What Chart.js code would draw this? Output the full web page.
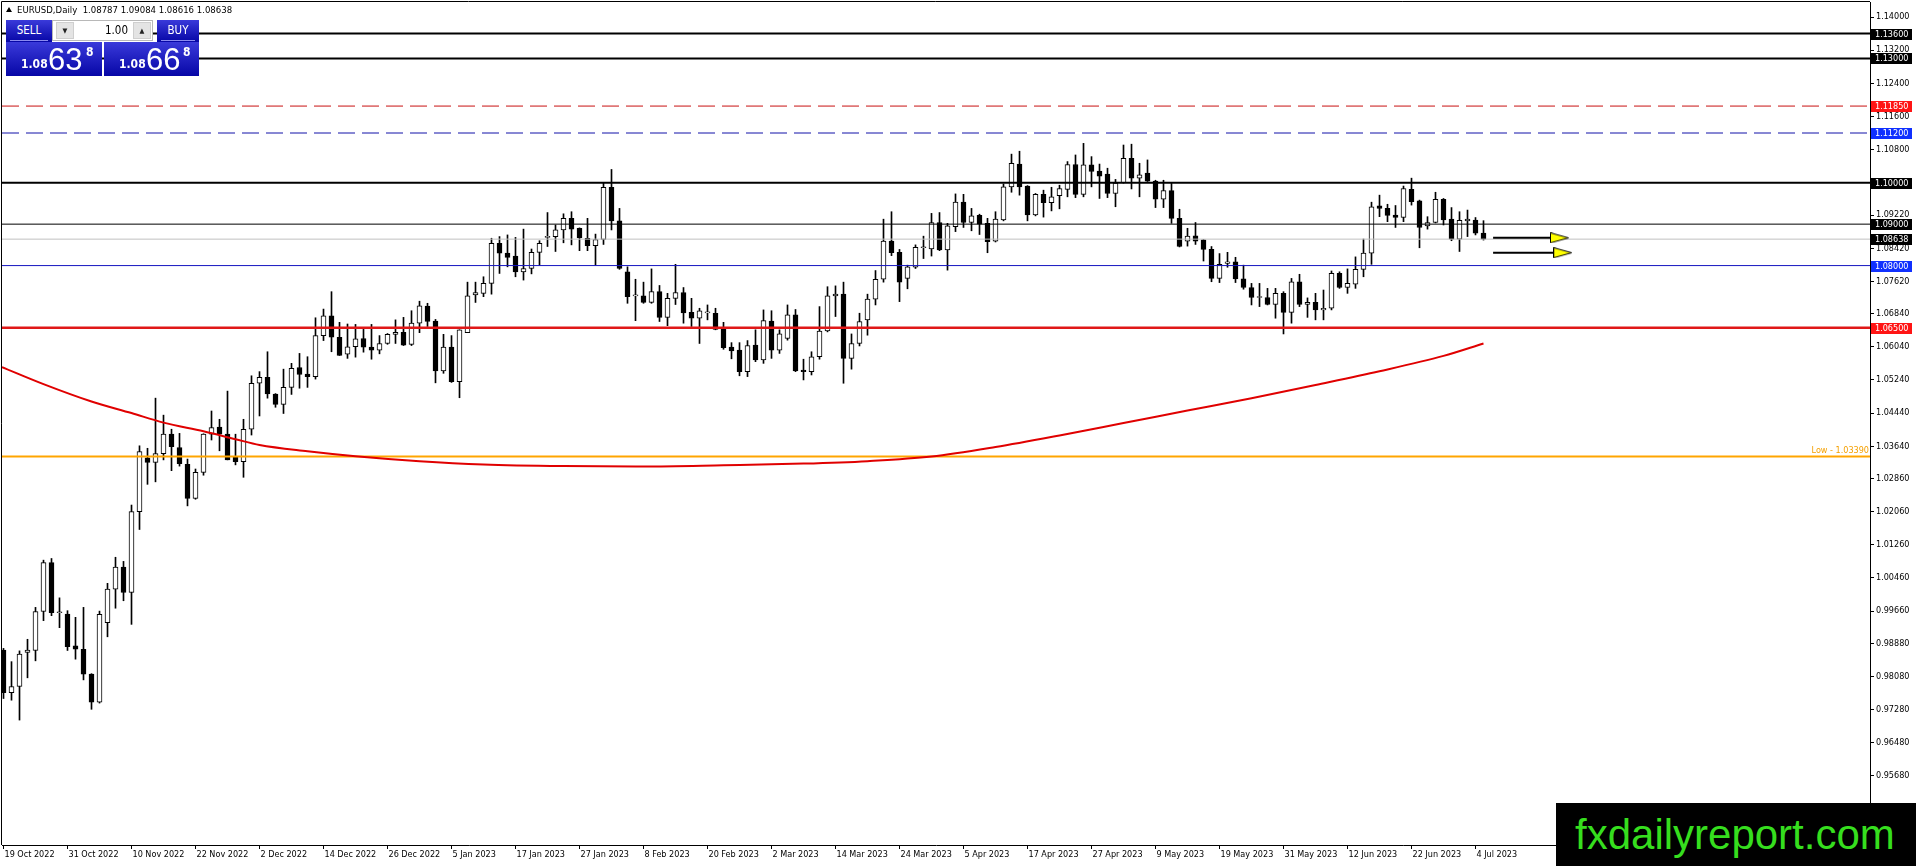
<!DOCTYPE html>
<html>
<head>
<meta charset="utf-8">
<script src="https://cdn.jsdelivr.net/npm/chart.js@4.4.1/dist/chart.umd.min.js"></script>
<style>
  html,body{margin:0;padding:0;background:#fff;}
  #wrap{position:relative;width:1916px;height:866px;overflow:hidden;}
  canvas{position:absolute;left:0;top:0;}
  .f{font-family:"DejaVu Sans Condensed","Liberation Sans",sans-serif;}
  #title{position:absolute;left:6px;top:4px;font-size:9.5px;color:#000;white-space:pre;}
  #title .tri{display:inline-block;width:0;height:0;border-left:3px solid transparent;border-right:3px solid transparent;border-bottom:5px solid #000;margin-right:5px;vertical-align:1px;}
  .blue{background:linear-gradient(#3a3ada,#0606a6);color:#fff;position:absolute;}
  #sellLbl{left:6px;top:20px;width:46px;height:22px;}
  #buyLbl{left:157px;top:20px;width:42px;height:22px;}
  .lbl{font-size:11.5px;text-align:center;line-height:21px;}
  .lbl .ul{position:absolute;left:4px;right:4px;bottom:1px;height:1px;background:#8a8af0;}
  #lot{position:absolute;left:52px;top:20px;width:101px;height:21px;background:#fff;border:1px solid #b8b8b8;box-sizing:border-box;}
  #lot .btn{position:absolute;top:1px;width:18px;height:17px;background:#e4e4e4;border:1px solid #cfcfcf;box-sizing:border-box;font-size:7px;text-align:center;line-height:16px;color:#222;}
  #lot .v{position:absolute;right:24px;top:0;font-size:11.5px;line-height:19px;color:#000;}
  #sellPx{left:6px;top:42px;width:96px;height:34px;}
  #buyPx{left:104px;top:42px;width:95px;height:34px;}
  .px .a{position:absolute;bottom:5px;font-size:12px;font-weight:bold;}
  .px .b{position:absolute;bottom:1px;font-size:31px;font-family:"Liberation Sans",sans-serif;line-height:31px;}
  .px .c{position:absolute;top:3px;font-size:12px;font-weight:bold;}
  #wm{position:absolute;left:1556px;top:803px;width:360px;height:63px;background:#000;color:#36de1e;font-family:"Liberation Sans",Arial,sans-serif;font-size:42px;line-height:63px;padding-left:19px;box-sizing:border-box;white-space:nowrap;}
</style>
</head>
<body>
<div id="wrap">
  <canvas id="c" width="1916" height="866"></canvas>
  <div id="title" class="f"><span class="tri"></span>EURUSD,Daily  1.08787 1.09084 1.08616 1.08638</div>
  <div id="sellLbl" class="blue lbl f">SELL<span class="ul"></span></div>
  <div id="lot" class="f"><span class="btn" style="left:3px">&#9660;</span><span class="v">1.00</span><span class="btn" style="right:1px">&#9650;</span></div>
  <div id="buyLbl" class="blue lbl f">BUY<span class="ul"></span></div>
  <div id="sellPx" class="blue px f"><span class="a" style="left:15px">1.08</span><span class="b" style="left:42px">63</span><span class="c" style="left:80px">8</span></div>
  <div id="buyPx" class="blue px f"><span class="a" style="left:15px">1.08</span><span class="b" style="left:42px">66</span><span class="c" style="left:79px">8</span></div>
  <div id="wm">fxdailyreport.com</div>
</div>
<script>
// ---- data ----
const openP  = [0.9872,0.9769,0.9784,0.9866,0.9871,0.9965,1.0083,0.9962,0.9959,0.9882,0.9874,0.9814,0.9746,0.9938,1.0019,1.0072,1.0011,1.0206,1.0336,1.0325,1.0346,1.0393,1.0361,1.0320,1.0238,1.0301,1.0393,1.0410,1.0393,1.0337,1.0327,1.0405,1.0516,1.0530,1.0490,1.0465,1.0506,1.0554,1.0538,1.0532,1.0631,1.0679,1.0627,1.0586,1.0604,1.0624,1.0603,1.0596,1.0612,1.0634,1.0639,1.0610,1.0661,1.0702,1.0666,1.0546,1.0603,1.0520,1.0638,1.0729,1.0733,1.0757,1.0854,1.0830,1.0823,1.0785,1.0793,1.0832,1.0868,1.0870,1.0886,1.0914,1.0890,1.0866,1.0848,1.0863,1.0989,1.0908,1.0785,1.0727,1.0727,1.0711,1.0737,1.0675,1.0721,1.0735,1.0687,1.0673,1.0686,1.0685,1.0647,1.0603,1.0596,1.0544,1.0608,1.0572,1.0666,1.0596,1.0624,1.0681,1.0548,1.0544,1.0580,1.0642,1.0727,1.0731,1.0576,1.0612,1.0669,1.0719,1.0767,1.0859,1.0832,1.0769,1.0796,1.0843,1.0840,1.0904,1.0838,1.0894,1.0953,1.0904,1.0921,1.0902,1.0859,1.0910,1.0990,1.1045,1.0992,1.0922,1.0972,1.0952,1.0969,1.0984,1.1044,1.0972,1.1043,1.1028,1.1021,1.0974,1.1000,1.1059,1.1011,1.1023,1.1004,1.0960,1.0981,1.0914,1.0859,1.0872,1.0862,1.0839,1.0769,1.0805,1.0809,1.0768,1.0747,1.0723,1.0723,1.0706,1.0733,1.0687,1.0761,1.0706,1.0711,1.0693,1.0697,1.0781,1.0747,1.0755,1.0791,1.0830,1.0944,1.0938,1.0922,1.0916,1.0984,1.0956,1.0896,1.0904,1.0960,1.0912,1.0864,1.0908,1.0910,1.08787];
const highP  = [0.9876,0.9844,0.9870,0.9898,0.9975,1.0089,1.0093,0.9998,0.9967,0.9951,0.9975,0.9815,0.9966,1.0033,1.0096,1.0086,1.0222,1.0365,1.0359,1.0480,1.0439,1.0405,1.0395,1.0333,1.0309,1.0394,1.0449,1.0429,1.0497,1.0393,1.0429,1.0534,1.0544,1.0592,1.0491,1.0550,1.0564,1.0588,1.0580,1.0674,1.0695,1.0737,1.0663,1.0659,1.0658,1.0646,1.0658,1.0631,1.0636,1.0669,1.0675,1.0691,1.0714,1.0709,1.0670,1.0634,1.0631,1.0645,1.0760,1.0760,1.0773,1.0866,1.0870,1.0874,1.0868,1.0888,1.0840,1.0860,1.0928,1.0898,1.0925,1.0930,1.0891,1.0914,1.0876,1.0999,1.1032,1.0938,1.0797,1.0767,1.0760,1.0792,1.0752,1.0733,1.0803,1.0747,1.0721,1.0697,1.0705,1.0697,1.0663,1.0614,1.0614,1.0619,1.0645,1.0693,1.0691,1.0645,1.0705,1.0694,1.0574,1.0592,1.0701,1.0749,1.0751,1.0760,1.0635,1.0685,1.0731,1.0788,1.0912,1.0930,1.0839,1.0801,1.0850,1.0871,1.0926,1.0928,1.0902,1.0973,1.0972,1.0938,1.0924,1.0914,1.0930,1.0997,1.1069,1.1076,1.0993,1.0974,1.0982,1.0989,1.0994,1.1051,1.1067,1.1095,1.1063,1.1045,1.1035,1.1008,1.1091,1.1093,1.1047,1.1055,1.1006,1.1006,1.1000,1.0936,1.0890,1.0904,1.0863,1.0846,1.0829,1.0832,1.0820,1.0801,1.0757,1.0757,1.0745,1.0745,1.0737,1.0769,1.0779,1.0722,1.0733,1.0741,1.0787,1.0785,1.0792,1.0821,1.0864,1.0953,1.0970,1.0948,1.0945,1.0992,1.1011,1.0958,1.0918,1.0977,1.0962,1.0940,1.0930,1.0934,1.0916,1.09084];
const lowP   = [0.9755,0.9751,0.9703,0.9805,0.9846,0.9943,0.9955,0.9926,0.9871,0.9850,0.9800,0.9729,0.9744,0.9904,0.9973,0.9991,0.9934,1.0163,1.0272,1.0278,1.0331,1.0305,1.0316,1.0220,1.0236,1.0294,1.0379,1.0353,1.0331,1.0319,1.0289,1.0391,1.0437,1.0480,1.0458,1.0443,1.0489,1.0504,1.0506,1.0526,1.0619,1.0592,1.0583,1.0576,1.0579,1.0591,1.0574,1.0587,1.0610,1.0612,1.0607,1.0607,1.0638,1.0653,1.0517,1.0540,1.0518,1.0481,1.0638,1.0711,1.0725,1.0731,1.0781,1.0797,1.0773,1.0765,1.0780,1.0801,1.0846,1.0834,1.0855,1.0850,1.0836,1.0836,1.0801,1.0851,1.0886,1.0791,1.0709,1.0667,1.0709,1.0709,1.0665,1.0655,1.0706,1.0661,1.0653,1.0612,1.0669,1.0645,1.0598,1.0575,1.0534,1.0532,1.0568,1.0564,1.0576,1.0588,1.0620,1.0544,1.0524,1.0536,1.0574,1.0640,1.0677,1.0516,1.0550,1.0606,1.0632,1.0705,1.0760,1.0824,1.0713,1.0744,1.0793,1.0817,1.0823,1.0836,1.0789,1.0882,1.0892,1.0884,1.0875,1.0831,1.0857,1.0908,1.0977,1.0970,1.0908,1.0920,1.0917,1.0932,1.0937,1.0966,1.0964,1.0966,1.0990,1.0962,1.0964,1.0942,1.0999,1.0985,1.0966,1.1003,1.0940,1.0940,1.0902,1.0845,1.0847,1.0851,1.0811,1.0761,1.0759,1.0796,1.0759,1.0743,1.0705,1.0701,1.0705,1.0673,1.0635,1.0661,1.0701,1.0675,1.0669,1.0669,1.0693,1.0745,1.0733,1.0745,1.0773,1.0803,1.0918,1.0906,1.0892,1.0906,1.0946,1.0843,1.0888,1.0903,1.0898,1.0860,1.0834,1.0870,1.0874,1.08616];
const closeP = [0.9769,0.9784,0.9862,0.9872,0.9965,1.0083,0.9962,0.9964,0.9880,0.9874,0.9814,0.9746,0.9958,1.0019,1.0072,1.0011,1.0206,1.0351,1.0325,1.0346,1.0393,1.0363,1.0322,1.0238,1.0301,1.0393,1.0409,1.0393,1.0331,1.0327,1.0405,1.0516,1.0530,1.0490,1.0465,1.0506,1.0552,1.0537,1.0532,1.0631,1.0679,1.0627,1.0583,1.0604,1.0623,1.0603,1.0596,1.0612,1.0634,1.0639,1.0608,1.0661,1.0703,1.0665,1.0546,1.0603,1.0520,1.0645,1.0727,1.0735,1.0757,1.0854,1.0830,1.0820,1.0785,1.0793,1.0832,1.0854,1.0870,1.0886,1.0914,1.0888,1.0867,1.0848,1.0863,1.0989,1.0908,1.0793,1.0725,1.0727,1.0711,1.0737,1.0675,1.0721,1.0735,1.0686,1.0673,1.0691,1.0687,1.0646,1.0602,1.0594,1.0544,1.0607,1.0572,1.0667,1.0596,1.0635,1.0681,1.0546,1.0544,1.0580,1.0642,1.0727,1.0731,1.0576,1.0612,1.0665,1.0719,1.0767,1.0859,1.0831,1.0760,1.0797,1.0844,1.0844,1.0904,1.0838,1.0896,1.0953,1.0904,1.0920,1.0900,1.0858,1.0912,1.0990,1.1047,1.0990,1.0922,1.0972,1.0952,1.0966,1.0986,1.1044,1.0972,1.1043,1.1027,1.1016,1.0974,1.0999,1.1059,1.1011,1.1019,1.1004,1.0960,1.0981,1.0914,1.0846,1.0871,1.0859,1.0839,1.0769,1.0803,1.0809,1.0768,1.0747,1.0723,1.0724,1.0706,1.0733,1.0687,1.0761,1.0706,1.0711,1.0693,1.0697,1.0781,1.0747,1.0757,1.0791,1.0830,1.0942,1.0938,1.0921,1.0916,1.0986,1.0954,1.0892,1.0904,1.0960,1.0910,1.0864,1.0909,1.0912,1.0878,1.08638];

const dateLabels = ['19 Oct 2022','31 Oct 2022','10 Nov 2022','22 Nov 2022','2 Dec 2022','14 Dec 2022','26 Dec 2022','5 Jan 2023','17 Jan 2023','27 Jan 2023','8 Feb 2023','20 Feb 2023','2 Mar 2023','14 Mar 2023','24 Mar 2023','5 Apr 2023','17 Apr 2023','27 Apr 2023','9 May 2023','19 May 2023','31 May 2023','12 Jun 2023','22 Jun 2023','4 Jul 2023'];
const dateLabelIdx = [0,8,16,24,32,40,48,56,64,72,80,88,96,104,112,120,128,136,144,152,160,168,176,184];

const priceTicks = [1.14000,1.13200,1.12400,1.11600,1.10800,1.10000,1.09220,1.08420,1.07620,1.06840,1.06040,1.05240,1.04440,1.03640,1.02860,1.02060,1.01260,1.00460,0.99660,0.98880,0.98080,0.97280,0.96480,0.95680];

// moving average curve (bar index, price)
const maIdx = [-0.19,5,11,16,20,25,29,32,38,44,52,60,70,80,90,100,108,116,124,132,140,148,156,164,172,180,185];
const maVal = [1.0555,1.0514,1.0472,1.0444,1.0421,1.0400,1.0381,1.0367,1.0352,1.0340,1.0328,1.0320,1.0316,1.0315,1.0318,1.0322,1.0328,1.0339,1.0362,1.0390,1.0420,1.0450,1.0480,1.0512,1.0545,1.0582,1.0612];

// horizontal levels
const levelPrices = [1.13600,1.13000,1.11850,1.11200,1.10000,1.09000,1.08638,1.08000,1.06500,1.03390];
const levelNames  = ['1.13600','1.13000','1.11850','1.11200','1.10000','1.09000','1.08638','1.08000','1.06500','Low - 1.03390'];

// arrows (bar index start, end of shaft, head centre, price)
const arrowStart = [186.2,186.2];
const arrowEnd   = [193.4,193.8];
const arrowHead  = [194.5,194.9];
const arrowPrice = [1.0867,1.0831];

// ---- styling (not data) ----
const X_MIN = -0.1875, X_MAX = 233.3125;
const Y_MIN = 0.940145, Y_MAX = 1.143621;
const levelStyle = [
  {c:'#000000',w:2,d:[],box:'#000000'},
  {c:'#000000',w:2,d:[],box:'#000000'},
  {c:'#c81010',w:1,d:[17,7],box:'#ff1414'},
  {c:'#1010a8',w:1,d:[17,7],box:'#1030ff'},
  {c:'#000000',w:2,d:[],box:'#000000'},
  {c:'#000000',w:1,d:[],box:'#000000'},
  {c:'#c0c0c0',w:1,d:[],box:'#000000'},
  {c:'#1515c0',w:1,d:[],box:'#1030ff'},
  {c:'#e01818',w:2.5,d:[],box:'#ff1414'},
  {c:'#ffa500',w:2,d:[],box:null}
];
const FONT = '"DejaVu Sans Condensed","Liberation Sans",sans-serif';

const n = openP.length;
const idx = Array.from({length:n},(_, i)=>i);

const datasets = [];
datasets.push({
  type:'bar', data: idx.map(i=>({x:i, y:[lowP[i], highP[i]]})),
  backgroundColor:'#000', borderWidth:0, barThickness:1, grouped:false, order:30
});
datasets.push({
  type:'bar', data: idx.map(i=>({x:i, y:[openP[i], closeP[i]]})),
  backgroundColor: ctx => (closeP[ctx.dataIndex] >= openP[ctx.dataIndex] ? '#ffffff' : '#000000'),
  borderColor:'#000', borderWidth:1, borderSkipped:false, barThickness:5, minBarLength:1,
  grouped:false, order:20
});
levelPrices.forEach((p,k)=>{
  const s = levelStyle[k];
  datasets.push({
    type:'line', data:[{x:X_MIN,y:p},{x:X_MAX,y:p}],
    borderColor:s.c, borderWidth:s.w, borderDash:s.d, pointRadius:0, order: (k===6?15:5)
  });
});
datasets.push({
  type:'line', data: maIdx.map((x,k)=>({x, y:maVal[k]})),
  borderColor:'#e00000', borderWidth:2, pointRadius:0, tension:0.4, cubicInterpolationMode:'monotone', order:4
});
// arrow head canvas
const head = document.createElement('canvas');
head.width = 19; head.height = 11;
(function(){
  const g = head.getContext('2d');
  g.beginPath(); g.moveTo(0.5,0.5); g.lineTo(18.5,5.5); g.lineTo(0.5,10.5); g.closePath();
  g.fillStyle = '#ffff00'; g.fill(); g.strokeStyle = '#000'; g.lineWidth = 1; g.stroke();
})();
arrowPrice.forEach((p,k)=>{
  datasets.push({
    type:'line', data:[{x:arrowStart[k],y:p},{x:arrowEnd[k],y:p}],
    borderColor:'#000', borderWidth:2, pointRadius:0, order:2
  });
  datasets.push({
    type:'line', data:[{x:arrowHead[k],y:p}], showLine:false,
    pointStyle: head, pointRadius:9, order:1
  });
});

const overlay = {
  id:'overlay',
  afterDatasetsDraw(chart){
    const {ctx, chartArea:a, scales:{y}} = chart;
    ctx.save();
    ctx.strokeStyle = '#000'; ctx.lineWidth = 1;
    ctx.beginPath(); ctx.moveTo(a.left-0.5, a.bottom); ctx.lineTo(a.left-0.5, a.top-0.5); ctx.lineTo(a.right, a.top-0.5); ctx.stroke();
    const k = levelPrices.length-1;
    ctx.font = '9px '+FONT; ctx.fillStyle = '#f5a000'; ctx.textAlign='right'; ctx.textBaseline='bottom';
    ctx.fillText(levelNames[k], a.right-1, y.getPixelForValue(levelPrices[k])-1);
    ctx.restore();
  },
  afterDraw(chart){
    const {ctx, chartArea:a, scales:{y}} = chart;
    ctx.save();
    ctx.font = '9px '+FONT; ctx.textAlign='left'; ctx.textBaseline='middle';
    levelPrices.forEach((p,k)=>{
      const s = levelStyle[k];
      if(!s.box) return;
      const py = Math.round(y.getPixelForValue(p));
      ctx.fillStyle = s.box; ctx.fillRect(a.right+1, py-5, 41, 11);
      ctx.fillStyle = '#fff'; ctx.fillText(levelNames[k], a.right+5, py+0.5);
    });
    ctx.restore();
  }
};

new Chart(document.getElementById('c'), {
  type:'bar',
  data:{datasets},
  options:{
    responsive:false, devicePixelRatio:1, animation:false,
    layout:{autoPadding:false, padding:{left:2,top:2,right:0,bottom:0}},
    plugins:{legend:{display:false}, tooltip:{enabled:false}},
    events:[],
    scales:{
      x:{
        type:'linear', position:'bottom', min:X_MIN, max:X_MAX, offset:false,
        grid:{display:true, drawOnChartArea:false, drawTicks:true, tickLength:4, color:'#000', offset:false},
        border:{display:true, color:'#000', width:1},
        afterBuildTicks: s => { s.ticks = dateLabelIdx.map(v=>({value:v})); },
        afterFit: s => { s.height = 21; s.paddingLeft = 0; s.paddingRight = 0; },
        ticks:{autoSkip:false, maxRotation:0, minRotation:0, align:'start', padding:0, labelOffset:1,
          color:'#000', font:{family:FONT, size:9},
          callback: v => { const j = dateLabelIdx.indexOf(v); return j>=0 ? dateLabels[j] : ''; }}
      },
      y:{
        type:'linear', position:'right', min:Y_MIN, max:Y_MAX,
        grid:{display:true, drawOnChartArea:false, drawTicks:true, tickLength:4, color:'#000'},
        border:{display:true, color:'#000', width:1},
        afterBuildTicks: s => { s.ticks = priceTicks.map(v=>({value:v})); },
        afterFit: s => { s.width = 46; s.paddingTop = 0; s.paddingBottom = 0; },
        ticks:{autoSkip:false, padding:2, color:'#000', font:{family:FONT, size:9},
          callback: v => Number(v).toFixed(5)}
      }
    }
  },
  plugins:[overlay]
});
</script>
</body>
</html>
